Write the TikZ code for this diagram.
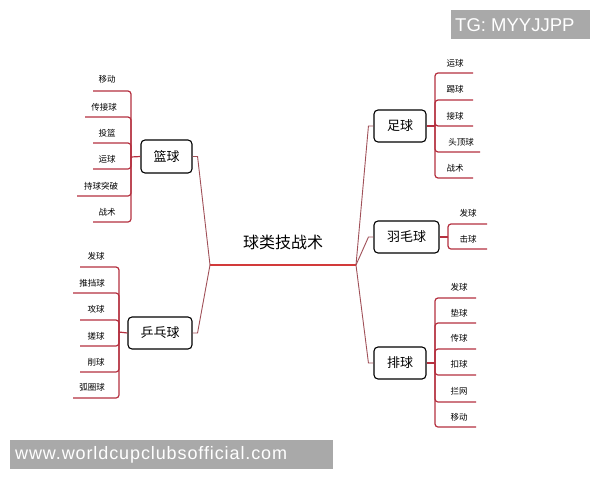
\documentclass[tikz,border=0pt]{standalone}
\usepackage{fontspec}
\setmainfont{Liberation Sans}
\newfontfamily\cjk{Noto Sans CJK SC}
\newfontfamily\wmfont[LetterSpace=5]{Liberation Sans}
\definecolor{branchc}{HTML}{B5303F}
\definecolor{trunkc}{HTML}{A05058}
\definecolor{ulc}{HTML}{D23A3A}
\definecolor{wmc}{HTML}{A9A9A9}
\begin{document}
\begin{tikzpicture}[x=1pt,y=-1pt,
  topic/.style={draw=black,line width=1.1pt,rounded corners=4pt,fill=white,inner sep=0pt,
    font=\cjk\fontsize{13}{13}\selectfont},
  leaf/.style={inner sep=0pt,font=\cjk\fontsize{8.5}{9}\selectfont},
  branch/.style={draw=branchc,line width=1.2pt,rounded corners=3pt},
  trunk/.style={draw=trunkc,line width=0.9pt},
  wm/.style={fill=wmc,inner sep=0pt,text=white}]
\useasboundingbox (0,0) rectangle (600,480);
\fill[white] (0,0) rectangle (600,480);
% centre
\node[font=\cjk\fontsize{16}{16}\selectfont,inner sep=0pt] (c) at (283,242) {球类技战术};
\coordinate (cl) at (210,265);
\coordinate (cr) at (356,265);
\draw[ulc,line width=2pt] (cl) -- (cr);
% topic boxes
\node[topic,minimum width=51pt,minimum height=33pt] (bk) at (166.5,156.5) {篮球};
\node[topic,minimum width=64pt,minimum height=32pt] (pp) at (160,333) {乒乓球};
\node[topic,minimum width=52pt,minimum height=32pt] (ft) at (400,126) {足球};
\node[topic,minimum width=65pt,minimum height=32pt] (bm) at (406.5,237) {羽毛球};
\node[topic,minimum width=52pt,minimum height=32pt] (vb) at (400,363) {排球};
% trunks
\draw[trunk] (bk.east) -- ++(5,0) -- (cl);
\draw[trunk] (pp.east) -- ++(5,0) -- (cl);
\draw[trunk] (ft.west) -- ++(-5,0) -- (cr);
\draw[trunk] (bm.west) -- ++(-5,0) -- (cr);
\draw[trunk] (vb.west) -- ++(-5,0) -- (cr);
% hubs
\coordinate (bkh) at (131,157);
\coordinate (pph) at (119,332);
\coordinate (fth) at (435,126);
\coordinate (bmh) at (448,237);
\coordinate (vbh) at (435,363);
\draw[branch] (bk.west) -- (bkh);
\draw[branch] (pp.west) -- (pph);
\draw[branch] (ft.east) -- (fth);
\draw[branch] (bm.east) -- (bmh);
\draw[branch] (vb.east) -- (vbh);
% basketball leaves
\foreach \t/\x/\y/\ly/\lx [count=\i] in {移动/107/79/91/93, 传接球/104/107/117/85, 投篮/107/133/143/93, 运球/107/159/169/93, 持球突破/101/186/196/77, 战术/107/212/222/93}{
  \node[leaf] (bkl\i) at (\x,\y) {\t};
  \coordinate (bkc\i) at (\lx,\ly);
  \draw[branch] (bkh) |- (bkc\i);
}
% table tennis leaves
\foreach \t/\x/\y/\ly/\lx [count=\i] in {发球/96/256/267/80, 推挡球/92/283/293/73, 攻球/96/309/320/80, 搓球/96/336/346/80, 削球/96/362/372/80, 弧圈球/92/387/398/73}{
  \node[leaf] (ppl\i) at (\x,\y) {\t};
  \coordinate (ppc\i) at (\lx,\ly);
  \draw[branch] (pph) |- (ppc\i);
}
% football leaves
\foreach \t/\x/\y/\ly/\lx [count=\i] in {运球/455/63/73/473, 踢球/455/89/100/473, 接球/455/116/126/473, 头顶球/461/142/152/480, 战术/455/168/178/473}{
  \node[leaf] (ftl\i) at (\x,\y) {\t};
  \coordinate (ftc\i) at (\lx,\ly);
  \draw[branch] (fth) |- (ftc\i);
}
% badminton leaves
\foreach \t/\x/\y/\ly/\lx [count=\i] in {发球/468/213/224/487, 击球/468/239/249/487}{
  \node[leaf] (bml\i) at (\x,\y) {\t};
  \coordinate (bmc\i) at (\lx,\ly);
  \draw[branch] (bmh) |- (bmc\i);
}
% volleyball leaves
\foreach \t/\x/\y/\ly/\lx [count=\i] in {发球/459/287/298/476, 垫球/459/313/323/476, 传球/459/338/349/476, 扣球/459/364/375/476, 拦网/459/391/402/476, 移动/459/417/427/476}{
  \node[leaf] (vbl\i) at (\x,\y) {\t};
  \coordinate (vbc\i) at (\lx,\ly);
  \draw[branch] (vbh) |- (vbc\i);
}
% watermarks
\fill[wmc] (451,10) rectangle (590,39);
\node[text=white,font=\fontsize{18.5}{18.5}\selectfont,anchor=west,inner sep=0pt] (tg) at (455,25) {TG: MYYJJPP};
\fill[wmc] (10,440) rectangle (333,469);
\node[text=white,font=\wmfont\fontsize{18}{18}\selectfont,anchor=west,inner sep=0pt] (www) at (15,455) {www.worldcupclubsofficial.com};
\end{tikzpicture}
\end{document}
